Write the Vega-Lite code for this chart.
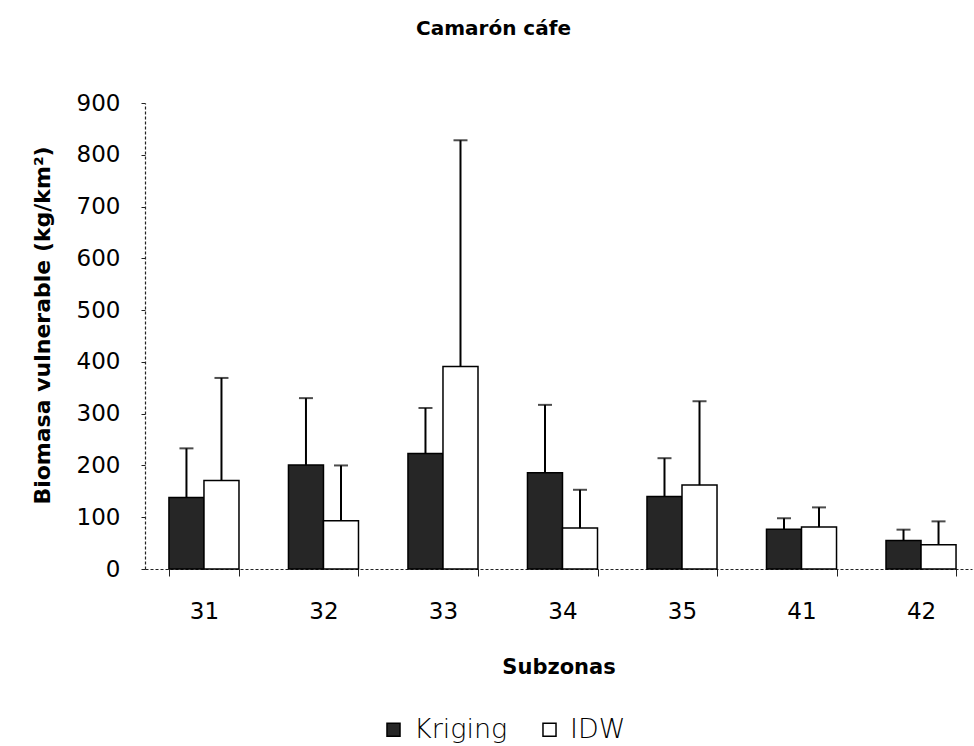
{
  "$schema": "https://vega.github.io/schema/vega-lite/v6.json",
  "autosize": {"type": "none"},
  "padding": {"left": 145, "top": 103, "right": 2, "bottom": 177},
  "width": 827,
  "height": 466,
  "background": "white",
  "title": {
    "text": "Camarón cáfe",
    "font": "DejaVu Sans",
    "fontSize": 20,
    "fontWeight": "bold",
    "color": "black",
    "anchor": "middle",
    "dx": -65,
    "offset": 53
  },
  "data": {
    "values": [
      {"Subzona": "31", "Metodo": "Kriging", "Biomasa": 138, "Superior": 233},
      {"Subzona": "31", "Metodo": "IDW", "Biomasa": 171, "Superior": 369},
      {"Subzona": "32", "Metodo": "Kriging", "Biomasa": 201, "Superior": 330},
      {"Subzona": "32", "Metodo": "IDW", "Biomasa": 93, "Superior": 200},
      {"Subzona": "33", "Metodo": "Kriging", "Biomasa": 223, "Superior": 311},
      {"Subzona": "33", "Metodo": "IDW", "Biomasa": 391, "Superior": 828},
      {"Subzona": "34", "Metodo": "Kriging", "Biomasa": 186, "Superior": 317},
      {"Subzona": "34", "Metodo": "IDW", "Biomasa": 79, "Superior": 153},
      {"Subzona": "35", "Metodo": "Kriging", "Biomasa": 140, "Superior": 214},
      {"Subzona": "35", "Metodo": "IDW", "Biomasa": 162, "Superior": 324},
      {"Subzona": "41", "Metodo": "Kriging", "Biomasa": 77, "Superior": 98},
      {"Subzona": "41", "Metodo": "IDW", "Biomasa": 81, "Superior": 119},
      {"Subzona": "42", "Metodo": "Kriging", "Biomasa": 55, "Superior": 76},
      {"Subzona": "42", "Metodo": "IDW", "Biomasa": 47, "Superior": 92}
    ]
  },
  "encoding": {
    "x": {
      "field": "Subzona",
      "type": "nominal",
      "sort": ["31", "32", "33", "34", "35", "41", "42"],
      "scale": {"paddingInner": 0.414, "paddingOuter": 0.167, "align": 0.6},
      "axis": {
        "title": "Subzonas",
        "titleFont": "DejaVu Sans",
        "titleFontSize": 21,
        "titleFontWeight": "bold",
        "titleColor": "black",
        "titlePadding": 33,
        "labelAngle": 0,
        "labelFont": "DejaVu Sans",
        "labelFontSize": 23,
        "labelColor": "black",
        "labelPadding": 24,
        "tickBand": "extent",
        "tickSize": 7,
        "tickColor": "#222",
        "domainColor": "#222",
        "domainDash": [3, 2],
        "domainWidth": 1.2
      }
    },
    "xOffset": {
      "field": "Metodo",
      "type": "nominal",
      "sort": ["Kriging", "IDW"],
      "scale": {"paddingInner": 0, "paddingOuter": 0}
    }
  },
  "layer": [
    {
      "mark": {"type": "bar", "stroke": "black", "strokeWidth": 1.5},
      "encoding": {
        "y": {
          "field": "Biomasa",
          "type": "quantitative",
          "scale": {"domain": [0, 900], "nice": false},
          "axis": {
            "title": "Biomasa vulnerable (kg/km²)",
            "titleFont": "DejaVu Sans",
            "titleFontSize": 22,
            "titleFontWeight": "bold",
            "titleColor": "black",
            "titlePadding": 22,
            "titleY": 222,
            "values": [0, 100, 200, 300, 400, 500, 600, 700, 800, 900],
            "grid": false,
            "labelFont": "DejaVu Sans",
            "labelFontSize": 23,
            "labelColor": "black",
            "labelPadding": 21,
            "tickSize": 4,
            "tickColor": "#222",
            "domainColor": "#222",
            "domainDash": [3, 2],
            "domainWidth": 1.2
          }
        },
        "fill": {
          "field": "Metodo",
          "type": "nominal",
          "sort": ["Kriging", "IDW"],
          "scale": {"domain": ["Kriging", "IDW"], "range": ["#262626", "#ffffff"]},
          "legend": {
            "title": null,
            "orient": "none",
            "direction": "horizontal",
            "legendX": 235,
            "legendY": 613,
            "padding": 0,
            "symbolType": "square",
            "symbolSize": 170,
            "symbolStrokeColor": "black",
            "symbolStrokeWidth": 1.5,
            "labelFont": "DejaVu Sans",
            "labelFontSize": 27,
            "labelFontWeight": 200,
            "labelColor": "black",
            "labelOffset": 7,
            "columnPadding": 28
          }
        }
      }
    },
    {
      "mark": {"type": "rule", "color": "black", "strokeWidth": 2},
      "encoding": {
        "y": {"field": "Biomasa", "type": "quantitative"},
        "y2": {"field": "Superior"}
      }
    },
    {
      "mark": {"type": "tick", "color": "black", "thickness": 2, "size": 14},
      "encoding": {
        "y": {"field": "Superior", "type": "quantitative"}
      }
    }
  ],
  "config": {
    "view": {"stroke": null}
  }
}
